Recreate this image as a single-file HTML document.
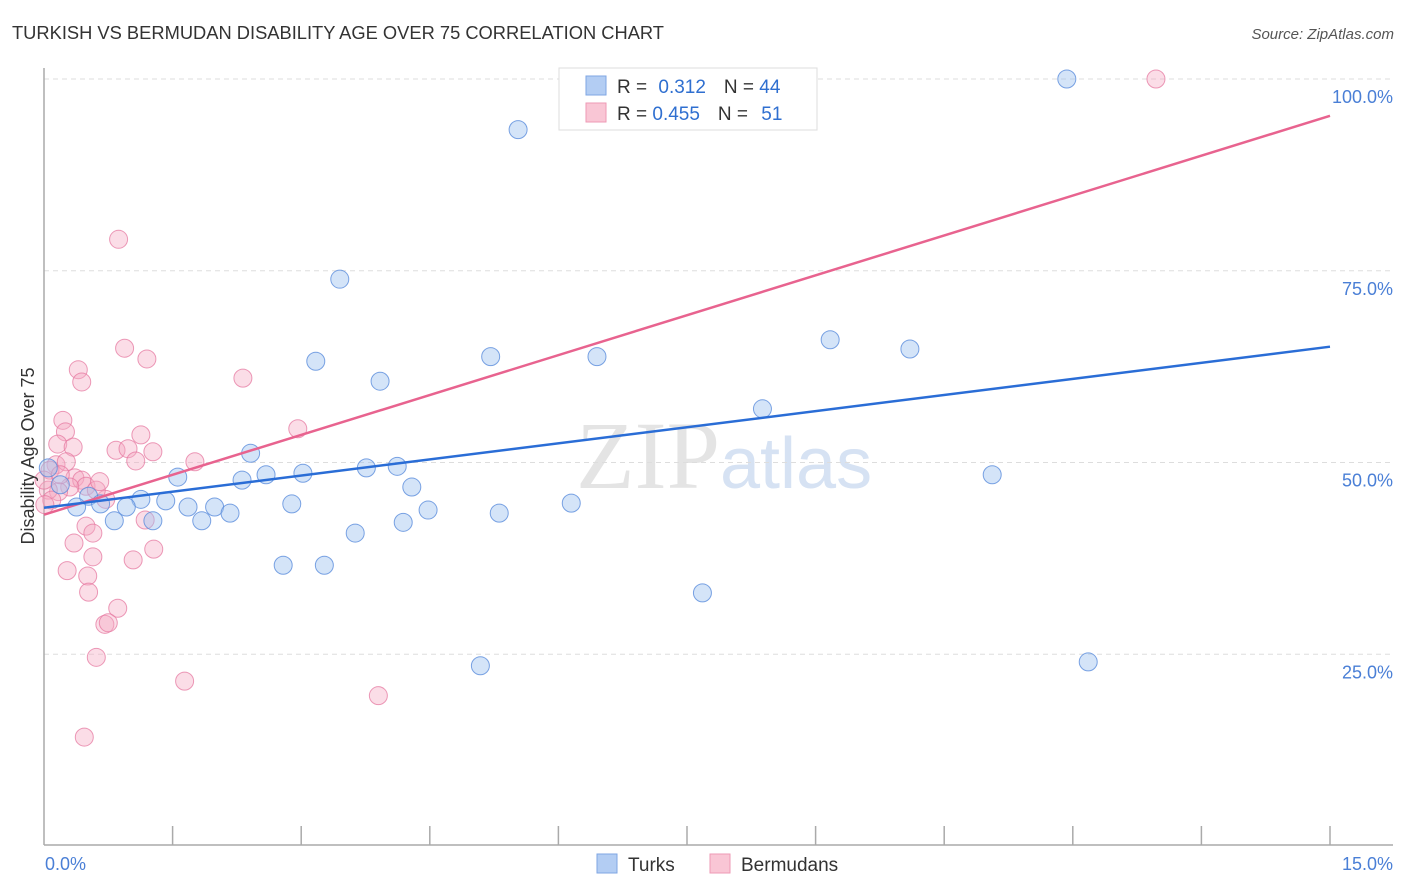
<!DOCTYPE html>
<html><head><meta charset="utf-8">
<style>
body{margin:0;background:#fff;font-family:"Liberation Sans",sans-serif;}
svg{display:block}
</style></head>
<body>
<svg id="chart" width="1406" height="892">
<text x="12" y="39" font-size="18" fill="#333" textLength="652" lengthAdjust="spacingAndGlyphs">TURKISH VS BERMUDAN DISABILITY AGE OVER 75 CORRELATION CHART</text>
<text x="1394" y="39" font-size="15" fill="#555" font-style="italic" text-anchor="end">Source: ZipAtlas.com</text>
<text x="720" y="488" font-size="96" fill="#e4e4e4" text-anchor="end" font-family="Liberation Serif">ZIP</text>
<text x="720" y="488" font-size="72" fill="#d6e2f3">atlas</text>
<g id="grid"></g>
<g id="axes"></g>
<g id="points"></g>
<g id="lines"></g>
<text transform="translate(34,456) rotate(-90)" font-size="18" fill="#333" text-anchor="middle">Disability Age Over 75</text>
<g>
<rect x="559" y="68" width="258" height="62" fill="#fff" stroke="#ddd"/>
<rect x="586" y="76" width="20" height="19" fill="#b3cdf3" stroke="#7fa6e3"/>
<rect x="586" y="103" width="20" height="19" fill="#f9c6d5" stroke="#ee9ab5"/>
<text x="617" y="93" font-size="19" fill="#333">R = <tspan fill="#2f6fd0" dx="6">0.312</tspan><tspan dx="18" fill="#333">N = </tspan><tspan fill="#2f6fd0">44</tspan></text>
<text x="617" y="120" font-size="19" fill="#333">R = <tspan fill="#2f6fd0">0.455</tspan><tspan dx="18" fill="#333">N = </tspan><tspan fill="#2f6fd0" dx="8">51</tspan></text>
</g>
<g>
<rect x="597" y="854" width="20" height="19" fill="#b3cdf3" stroke="#7fa6e3"/>
<text x="628" y="871" font-size="19" fill="#333">Turks</text>
<rect x="710" y="854" width="20" height="19" fill="#f9c6d5" stroke="#ee9ab5"/>
<text x="741" y="871" font-size="19" fill="#333">Bermudans</text>
</g>
</svg>
<script>
const turksX=[11.93,5.53,3.45,3.17,3.92,5.21,6.45,9.17,10.10,8.38,11.06,2.41,1.56,2.31,2.59,3.02,3.76,4.12,4.29,0.52,0.66,1.13,1.42,0.96,0.38,1.68,1.99,2.17,2.89,4.48,5.31,6.15,0.82,1.27,1.84,4.19,3.63,2.79,3.27,7.68,5.09,12.18,0.19,0.05];
const turksY=[100,93.4,73.9,63.2,60.6,63.8,63.8,66.0,64.8,57.0,48.4,51.2,48.1,47.7,48.4,48.6,49.3,49.5,46.8,45.6,44.6,45.2,45.0,44.2,44.2,44.2,44.2,43.4,44.6,43.8,43.4,44.7,42.4,42.4,42.4,42.2,40.8,36.6,36.6,33.0,23.5,24.0,47.1,49.3];
const bermX=[12.97,0.87,0.94,1.20,2.32,0.40,0.44,0.22,0.25,0.16,0.34,2.96,1.13,0.84,0.98,1.27,1.07,1.76,0.14,0.07,0.36,0.44,0.49,0.30,0.17,0.05,0.09,0.72,0.01,1.18,0.49,0.57,0.35,1.28,0.57,1.04,0.27,0.51,0.52,0.86,0.71,0.75,0.61,1.64,3.90,0.47,0.26,0.0,0.61,0.19,0.65];
const bermY=[100,79.1,64.9,63.5,61.0,62.1,60.5,55.5,54.0,52.4,52.0,54.4,53.6,51.6,51.8,51.4,50.2,50.1,49.7,49.0,48.0,47.7,46.9,46.8,46.2,46.4,45.1,45.2,44.5,42.5,41.7,40.8,39.5,38.7,37.7,37.3,35.9,35.2,33.1,31.0,28.9,29.1,24.6,21.5,19.6,14.2,50.1,47.7,46.4,48.4,47.5];
const turksTrend=[44.1,65.1];
const bermTrend=[43.2,95.2];
const yTicks=[25,50,75,100];
const yTickLabels=["25.0%","50.0%","75.0%","100.0%"];
const xTickCount=10;
const xLabels=["0.0%","15.0%"];

const NS="http://www.w3.org/2000/svg";
const X=v=>44+v*(1330-44)/15;
const Y=v=>846-v*7.67;
function mk(parent,tag,attrs){const e=document.createElementNS(NS,tag);for(const k in attrs)e.setAttribute(k,attrs[k]);document.getElementById(parent).appendChild(e);return e;}

yTicks.forEach((t,i)=>{
  const g=mk('grid','line',{x1:44,x2:1393,y1:Y(t),y2:Y(t),stroke:'#ddd','stroke-dasharray':'5,4'});
  
  
  const l=mk('grid','text',{x:1393,y:Y(t)+24,'font-size':18,fill:'#4a7fd6','text-anchor':'end'});
  l.textContent=yTickLabels[i];
  
  
});
let a=mk('axes','line',{x1:44,x2:44,y1:68,y2:845,stroke:'#aaa','stroke-width':1.5});


a=mk('axes','line',{x1:44,x2:1393,y1:845,y2:845,stroke:'#aaa','stroke-width':1.5});


for(let i=1;i<=xTickCount;i++){
  const v=15*i/xTickCount;
  const t=mk('axes','line',{x1:X(v),x2:X(v),y1:826,y2:845,stroke:'#aaa','stroke-width':1.5});
  
  
}
let xl=mk('axes','text',{x:45,y:870,'font-size':18,fill:'#4a7fd6'});xl.textContent=xLabels[0];


xl=mk('axes','text',{x:1393,y:870,'font-size':18,fill:'#4a7fd6','text-anchor':'end'});xl.textContent=xLabels[1];



bermX.forEach((x,i)=>{
  const c=mk('points','circle',{cx:X(x),cy:Y(bermY[i]),r:9,fill:'rgba(245,170,195,0.4)',stroke:'rgba(230,120,160,0.75)','stroke-width':1});
  
  
});
turksX.forEach((x,i)=>{
  const c=mk('points','circle',{cx:X(x),cy:Y(turksY[i]),r:9,fill:'rgba(160,195,240,0.45)',stroke:'rgba(90,140,220,0.8)','stroke-width':1});
  
  
});
let tl=mk('lines','line',{x1:X(0),x2:X(15),y1:Y(bermTrend[0]),y2:Y(bermTrend[1]),stroke:'#e8638f','stroke-width':2.5});


tl=mk('lines','line',{x1:X(0),x2:X(15),y1:Y(turksTrend[0]),y2:Y(turksTrend[1]),stroke:'#2a6dd6','stroke-width':2.5});


</script>
</body></html>
